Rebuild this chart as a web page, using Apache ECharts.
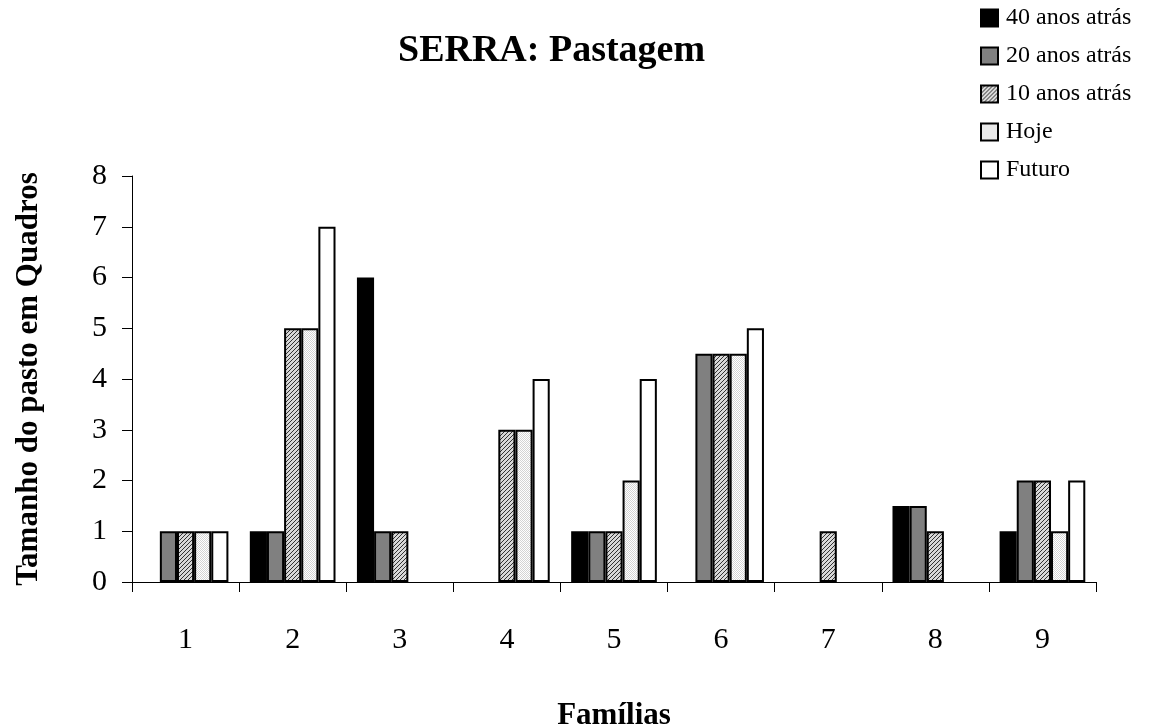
<!DOCTYPE html>
<html><head><meta charset="utf-8">
<script src="https://cdn.jsdelivr.net/npm/echarts@6/dist/echarts.min.js"></script>
<style>html,body{margin:0;padding:0;background:#fff}#c{width:1149px;height:728px}</style>
</head><body><div id="c"></div>
<script>
const categories = ['1','2','3','4','5','6','7','8','9'];
const seriesNames = ['40 anos atrás','20 anos atrás','10 anos atrás','Hoje','Futuro'];
const anos40 = [null, 1, 6, null, 1, null, null, 1.5, 1];
const anos20 = [1, 1, 1, null, 1, 4.5, null, 1.5, 2];
const anos10 = [1, 5, 1, 3, 1, 4.5, 1, 1, 2];
const hoje   = [1, 5, null, 3, 2, 4.5, null, null, 1];
const futuro = [1, 7, null, 4, 4, 5, null, null, 2];
const yTicks = [0,1,2,3,4,5,6,7,8];

function hatch(){
  const c=document.createElement('canvas');c.width=4;c.height=4;
  const g=c.getContext('2d');g.fillStyle='#d8d8d8';g.fillRect(0,0,4,4);
  g.fillStyle='#333';
  for(let i=0;i<4;i++){g.fillRect(i,3-i,1,1);}
  return {image:c,repeat:'repeat'};
}
function dots(){
  const c=document.createElement('canvas');c.width=2;c.height=2;
  const g=c.getContext('2d');g.fillStyle='#fff';g.fillRect(0,0,2,2);
  g.fillStyle='#d4d4d4';g.fillRect(0,0,1,1);g.fillRect(1,1,1,1);
  return {image:c,repeat:'repeat'};
}
const fills = ['#000000','#808080',hatch(),dots(),'#ffffff'];
const datas = [anos40,anos20,anos10,hoje,futuro];
const serif = 'Liberation Serif, Times New Roman, serif';

const chart = echarts.init(document.getElementById('c'));
chart.setOption({
  animation:false,
  backgroundColor:'#fff',
  title:{text:'SERRA: Pastagem',left:393,top:27,textStyle:{fontFamily:serif,fontSize:38,fontWeight:'bold',color:'#000'}},
  legend:{orient:'vertical',left:980,top:6,padding:0,itemWidth:17,itemHeight:17,itemGap:14,icon:'rect',
    textStyle:{fontFamily:serif,fontSize:24,color:'#000',padding:[0,0,0,3]},
    data:seriesNames},
  grid:{left:132,right:53,top:176,bottom:146,outerBoundsMode:'none',containLabel:false},
  xAxis:{type:'category',data:categories,
    axisLine:{lineStyle:{color:'#000',width:1}},
    axisTick:{show:true,length:10,lineStyle:{color:'#000'}},
    axisLabel:{fontFamily:serif,fontSize:30,color:'#000',margin:43},
    name:'Famílias',nameLocation:'middle',nameGap:118,
    nameTextStyle:{fontFamily:serif,fontSize:31,fontWeight:'bold',color:'#000'}},
  yAxis:{type:'value',min:0,max:8,interval:1,
    axisLine:{show:true,lineStyle:{color:'#000',width:1}},
    axisTick:{show:true,length:10,lineStyle:{color:'#000'}},
    splitLine:{show:false},
    axisLabel:{fontFamily:serif,fontSize:30,color:'#000',margin:25,formatter:v=>yTicks.includes(v)?String(v):''},
    name:'Tamanho do pasto em Quadros',nameLocation:'middle',nameGap:88,
    nameTextStyle:{fontFamily:serif,fontSize:31,fontWeight:'bold',color:'#000'}},
  series: seriesNames.map((n,i)=>({
    name:n,type:'bar',data:datas[i],barGap:'0%',barCategoryGap:'20%',
    itemStyle:{color:fills[i],borderColor:'#000',borderWidth:2}
  }))
});
</script></body></html>
